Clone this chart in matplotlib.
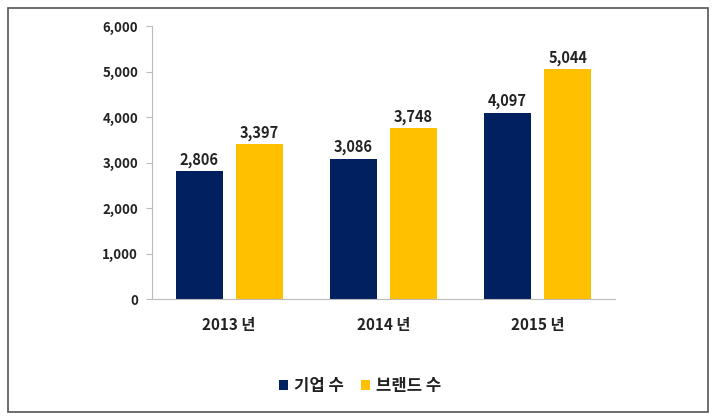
import matplotlib
matplotlib.use('Agg')
import matplotlib.pyplot as plt
from matplotlib.patches import Rectangle
import numpy as np

plt.rcParams['font.family'] = ['Noto Sans CJK KR', 'DejaVu Sans']

years = ['2013 년', '2014 년', '2015 년']
companies = [2806, 3086, 4097]
brands = [3397, 3748, 5044]
series_names = ['기업 수', '브랜드 수']

navy = '#002060'
gold = '#FFC000'

fig = plt.figure(figsize=(7.23, 4.19), dpi=100)
ax = fig.add_axes([152 / 723, 1 - 299 / 419, 463 / 723, 273 / 419])

# outer frame
fig.patches.append(Rectangle((8 / 723, 1 - 412 / 419), 700 / 723, 404 / 419,
                             transform=fig.transFigure, fill=False,
                             edgecolor='#555555', linewidth=1.2))

x = np.arange(len(years))
w = 0.305
off = 0.195
b1 = ax.bar(x - off, companies, w, color=navy, label=series_names[0])
b2 = ax.bar(x + off, brands, w, color=gold, label=series_names[1])

for bars in (b1, b2):
    for r in bars:
        ax.text(r.get_x() + r.get_width() / 2, r.get_height() + 80,
                '{:,}'.format(int(r.get_height())), ha='center', va='bottom',
                fontsize=10.5, fontweight='bold', color='#222222')

ax.set_xlim(-0.5, 2.5)
ax.set_ylim(0, 6000)
ax.set_yticks(np.arange(0, 6001, 1000))
ax.set_yticklabels(['{:,}'.format(v) for v in range(0, 6001, 1000)],
                   fontsize=9.5, fontweight='bold', color='#222222')
ax.set_xticks(x)
ax.set_xticklabels(years, fontsize=11, fontweight='bold', color='#222222')
ax.tick_params(axis='x', length=0, pad=13)
ax.tick_params(axis='y', length=4, color='#bbbbbb', direction='out', pad=6)

for s in ('top', 'right'):
    ax.spines[s].set_visible(False)
ax.spines['left'].set_color('#bbbbbb')
ax.spines['bottom'].set_color('#bbbbbb')

leg = fig.legend(loc='center', bbox_to_anchor=(360 / 723, 1 - 386 / 419),
                 ncol=2, frameon=False, handlelength=0.55, handleheight=0.55,
                 handletextpad=0.35, columnspacing=1.0,
                 prop={'size': 12, 'weight': 'bold'})
for t in leg.get_texts():
    t.set_color('#222222')

plt.savefig('out.png', dpi=100)
